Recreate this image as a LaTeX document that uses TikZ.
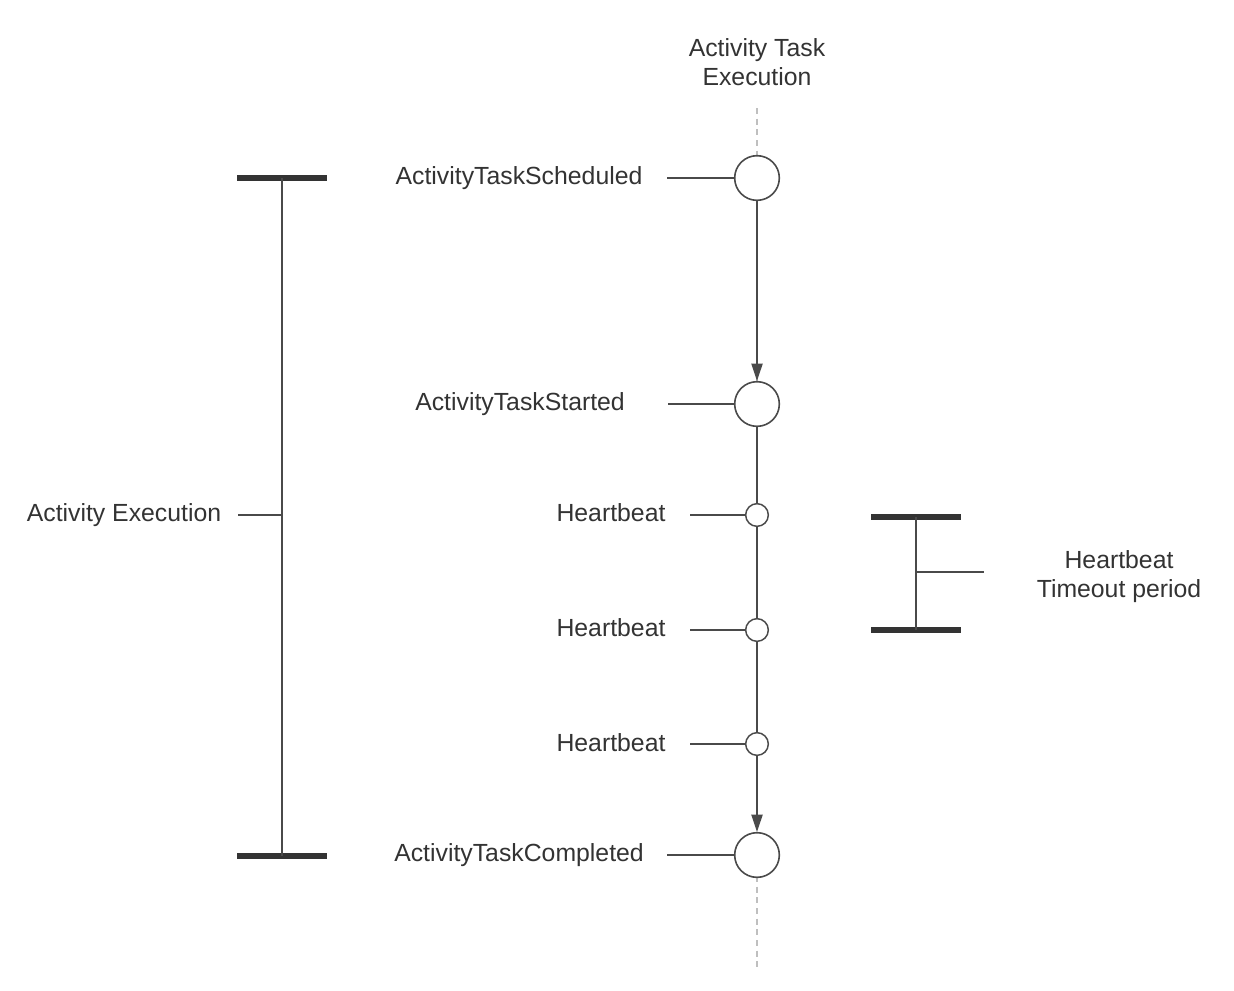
\documentclass[tikz,border=0pt]{standalone}
\usepackage{fontspec}
\setmainfont{Liberation Sans}
\usepackage{tikz}
\usetikzlibrary{arrows.meta,positioning}
\definecolor{ink}{HTML}{333333}
\definecolor{wire}{HTML}{4A4A4A}
\begin{document}
\begin{tikzpicture}[
    x=0.75pt,y=-0.75pt,
    lbl/.style={text=ink,font=\fontsize{18.6}{21.75}\selectfont,align=center,inner sep=0pt,anchor=base},
    event/.style={circle,draw=wire,line width=1.2pt,fill=white,minimum size=33.5pt,inner sep=0pt},
    beat/.style={circle,draw=wire,line width=1.1pt,fill=white,minimum size=17pt,inner sep=0pt},
    link/.style={draw=wire,line width=0.9pt},
    flow/.style={link,-{Triangle[length=13pt,width=8.5pt]}},
    bar/.style={draw=ink,line width=3.8pt},
    lifeline/.style={draw=black!25,line width=0.8pt,dash pattern=on 4.5pt off 3.5pt}
]
\useasboundingbox (0,0) rectangle (1234,990);

% Activity task lifeline
\node[lbl] (title) at (757,85) {Activity Task\\Execution};
\coordinate (lifetop) at (757,108);
\coordinate (lifebot) at (757,968);
\draw[lifeline] (lifetop) -- (lifebot);

\node[event] (sched) at (757,178) {};
\node[event] (started) at (757,404) {};
\node[beat] (beat1) at (757,515) {};
\node[beat] (beat2) at (757,630) {};
\node[beat] (beat3) at (757,744) {};
\node[event] (done) at (757,855) {};
\draw[flow] (sched) -- (started);
\draw[link] (started) -- (beat1);
\draw[link] (beat1) -- (beat2);
\draw[link] (beat2) -- (beat3);
\draw[flow] (beat3) -- (done);

% Event labels
\node[lbl] (schedlbl) at (519,184) {ActivityTaskScheduled};
\node[lbl] (startlbl) at (520,410) {ActivityTaskStarted};
\node[lbl] (beatlbl1) at (611,521) {Heartbeat};
\node[lbl] (beatlbl2) at (611,636) {Heartbeat};
\node[lbl] (beatlbl3) at (611,751) {Heartbeat};
\node[lbl] (donelbl) at (519,861) {ActivityTaskCompleted};
\coordinate (schedtip) at (667,178);
\coordinate (starttip) at (668,404);
\coordinate (beattip1) at (690,515);
\coordinate (beattip2) at (690,630);
\coordinate (beattip3) at (690,744);
\coordinate (donetip) at (667,855);
\draw[link] (schedtip) -- (sched);
\draw[link] (starttip) -- (started);
\draw[link] (beattip1) -- (beat1);
\draw[link] (beattip2) -- (beat2);
\draw[link] (beattip3) -- (beat3);
\draw[link] (donetip) -- (done);

% Activity execution span
\coordinate (spantop) at (282,178);
\coordinate (spanbot) at (282,856);
\coordinate (spanmid) at (282,515);
\draw[bar] (237,178) -- (327,178);
\draw[bar] (237,856) -- (327,856);
\draw[link] (spantop) -- (spanbot);
\node[lbl] (execlbl) at (124,521) {Activity Execution};
\coordinate (exectip) at (238,515);
\draw[link] (exectip) -- (spanmid);

% Heartbeat timeout span
\coordinate (hbtop) at (916,517);
\coordinate (hbbot) at (916,630);
\coordinate (hbmid) at (916,572);
\draw[bar] (871,517) -- (961,517);
\draw[bar] (871,630) -- (961,630);
\draw[link] (hbtop) -- (hbbot);
\node[lbl] (hblbl) at (1119,597) {Heartbeat\\Timeout period};
\coordinate (hbtip) at (984,572);
\draw[link] (hbmid) -- (hbtip);
\end{tikzpicture}
\end{document}
